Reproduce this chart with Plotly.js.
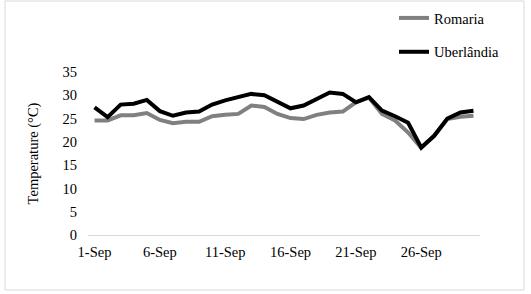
<!DOCTYPE html>
<html>
<head>
<meta charset="utf-8">
<script src="https://cdn.plot.ly/plotly-3.0.1.min.js"></script>
<style>
html,body{margin:0;padding:0;background:#fff;}
#chart{width:531px;height:294px;}
</style>
</head>
<body>
<div id="chart"></div>
<script>
const days = ["1-Sep","2-Sep","3-Sep","4-Sep","5-Sep","6-Sep","7-Sep","8-Sep","9-Sep","10-Sep",
  "11-Sep","12-Sep","13-Sep","14-Sep","15-Sep","16-Sep","17-Sep","18-Sep","19-Sep","20-Sep",
  "21-Sep","22-Sep","23-Sep","24-Sep","25-Sep","26-Sep","27-Sep","28-Sep","29-Sep","30-Sep"];
const romaria = [24.6,24.6,25.7,25.7,26.2,24.7,24.0,24.3,24.3,25.5,
  25.8,26.0,27.8,27.5,26.0,25.1,24.9,25.8,26.3,26.5,
  28.5,29.5,26.0,24.6,22.0,18.7,21.4,24.9,25.4,25.6];
const uberlandia = [27.4,25.3,28.0,28.2,29.0,26.6,25.6,26.3,26.5,28.0,
  28.9,29.5,30.3,30.0,28.5,27.2,27.8,29.3,30.6,30.3,
  28.5,29.6,26.7,25.5,24.1,18.8,21.3,25.0,26.3,26.7];
const tickLabels = ["1-Sep","6-Sep","11-Sep","16-Sep","21-Sep","26-Sep"];
const yTicks = [0,5,10,15,20,25,30,35];

const font = {family: "Liberation Serif", size: 14.5, color: "#000"};

const traces = [
  {x: days, y: romaria, name: "Romaria", type: "scatter", mode: "lines",
   line: {color: "#808080", width: 4}, legendgroup: "a"},
  {x: days, y: uberlandia, name: "Uberlândia", type: "scatter", mode: "lines",
   line: {color: "#000000", width: 4}, legendgroup: "b"}
];

// paper area = 443 x 235 px (left margin 88, bottom margin 59); plot area 392 x 163 px
const layout = {
  width: 531, height: 294,
  margin: {l: 88, r: 0, t: 0, b: 59, pad: 0},
  paper_bgcolor: "#fff", plot_bgcolor: "#fff",
  font: font,
  showlegend: true,
  legend: {x: 306/443, y: 233/235, xanchor: "left", yanchor: "top",
    font: font, tracegroupgap: 12, itemwidth: 30, bgcolor: "rgba(0,0,0,0)"},
  xaxis: {type: "category", range: [-0.5, 29.5], domain: [0, 392/443], tickmode: "array",
    tickvals: tickLabels, ticktext: tickLabels, showgrid: false, zeroline: false,
    showline: true, linecolor: "#d9d9d9", linewidth: 1, ticks: "", tickfont: font,
    ticklabelstandoff: 4},
  yaxis: {range: [0, 35], domain: [0, 163/235], tickmode: "array", tickvals: yTicks, showgrid: false,
    zeroline: false, showline: false, ticks: "", tickfont: font,
    ticklabelstandoff: 10,
    title: {text: "Temperature (°C)", font: font, standoff: 20}},
  shapes: [{type: "rect", xref: "paper", yref: "paper",
    x0: -83/443, x1: 436/443, y0: -55/235, y1: 234/235,
    line: {color: "#d9d9d9", width: 1}}]
};

Plotly.newPlot("chart", traces, layout, {displayModeBar: false, staticPlot: true});
</script>
</body>
</html>
